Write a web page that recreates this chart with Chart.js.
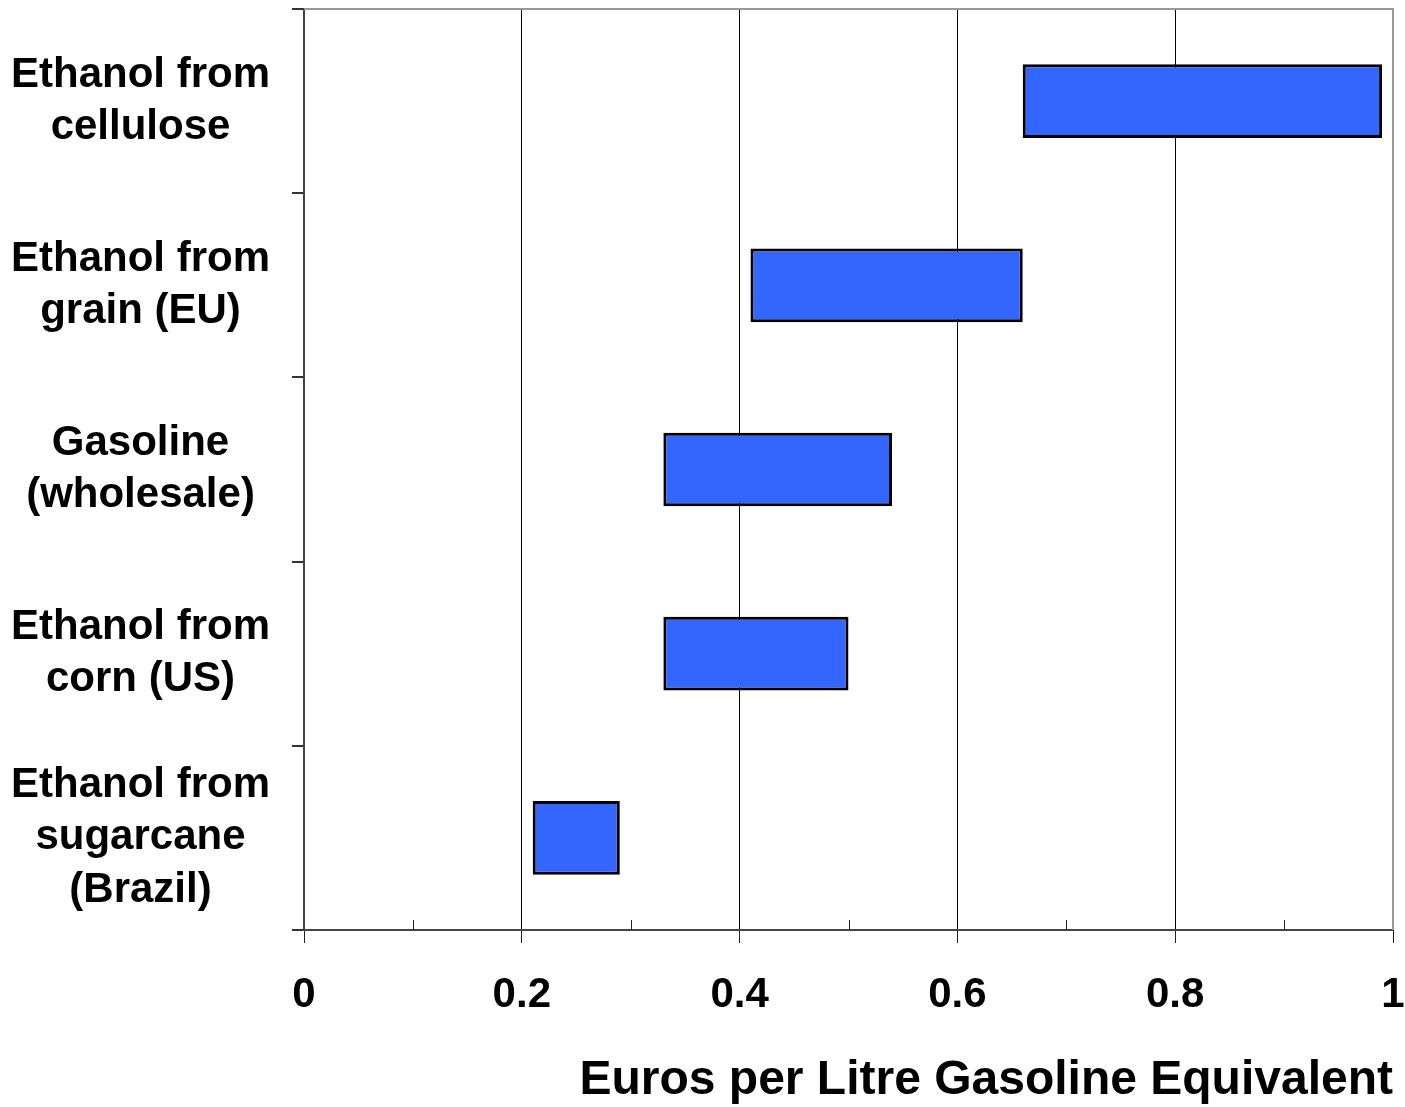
<!DOCTYPE html>
<html>
<head>
<meta charset="utf-8">
<script src="https://cdn.jsdelivr.net/npm/chart.js@4.4.1/dist/chart.umd.min.js"></script>
<style>
  html, body { margin: 0; padding: 0; background: #fff; }
  #wrap { width: 1405px; height: 1107px; }
</style>
</head>
<body>
<div id="wrap"><canvas id="costChart" width="1405" height="1107"></canvas></div>
<script>
// Catégories (de haut en bas) et bornes des fourchettes de coût
const categories = [
    ["Ethanol from", "cellulose"],
    ["Ethanol from", "grain (EU)"],
    ["Gasoline", "(wholesale)"],
    ["Ethanol from", "corn (US)"],
    ["Ethanol from", "sugarcane", "(Brazil)"]
];
const lowValues = [0.66, 0.41, 0.33, 0.33, 0.21];
const highValues = [0.99, 0.66, 0.54, 0.50, 0.29];
const xMin = 0;
const xMax = 1;
const majorStep = 0.2;
const minorTicks = [0.1, 0.3, 0.5, 0.7, 0.9];
const axisTitle = "Euros per Litre Gasoline Equivalent";

const FONT = "'Liberation Sans', Arial, sans-serif";

// Cadre gris en haut et à droite + petites graduations vers le haut
const framePlugin = {
    id: 'frame',
    afterDraw(chart) {
        const ctx = chart.ctx;
        const area = chart.chartArea;
        const xs = chart.scales.x;
        ctx.save();
        ctx.strokeStyle = '#999';
        ctx.lineWidth = 2;
        ctx.beginPath();
        ctx.moveTo(area.left, area.top);
        ctx.lineTo(area.right, area.top);
        ctx.lineTo(area.right, area.bottom);
        ctx.stroke();

        ctx.strokeStyle = '#222';
        ctx.lineWidth = 1;
        minorTicks.forEach(v => {
            const x = Math.round(xs.getPixelForValue(v)) + 0.5;
            ctx.beginPath();
            ctx.moveTo(x, area.bottom);
            ctx.lineTo(x, area.bottom - 10);
            ctx.stroke();
        });
        ctx.restore();
    }
};

const ranges = lowValues.map((lo, i) => [lo, highValues[i]]);

new Chart(document.getElementById('costChart'), {
    type: 'bar',
    data: {
        labels: categories,
        datasets: [{
            data: ranges,
            backgroundColor: '#3366FF',
            borderColor: '#000',
            borderWidth: 3,
            borderSkipped: false,
            barPercentage: 0.4,
            categoryPercentage: 1
        }]
    },
    options: {
        indexAxis: 'y',
        responsive: false,
        animation: false,
        layout: { padding: { top: 9, right: 12, left: 0, bottom: 0 } },
        plugins: {
            legend: { display: false },
            tooltip: { enabled: false },
            title: {
                display: true,
                text: axisTitle,
                position: 'bottom',
                align: 'end',
                color: '#000',
                font: { family: FONT, size: 48, weight: 'bold', lineHeight: 1.0 },
                padding: { top: 0, bottom: 2 }
            }
        },
        scales: {
            x: {
                type: 'linear',
                min: xMin,
                max: xMax,
                afterFit(scale) {
                    scale.height = 127;
                    scale.paddingLeft = 0;
                    scale.paddingRight = 0;
                },
                ticks: {
                    stepSize: majorStep,
                    color: '#000',
                    padding: 27,
                    maxRotation: 0,
                    font: { family: FONT, size: 42, weight: 'bold' },
                    callback: v => String(Math.round(v * 10) / 10)
                },
                grid: {
                    color: ctx => (ctx.tick && (ctx.tick.value === xMin || ctx.tick.value === xMax)) ? 'rgba(0,0,0,0)' : '#000',
                    tickColor: '#222',
                    lineWidth: 1,
                    tickLength: 13
                },
                border: { color: '#444', width: 2 }
            },
            y: {
                type: 'category',
                afterFit(scale) {
                    scale.width = 304;
                    scale.paddingTop = 0;
                    scale.paddingBottom = 0;
                },
                ticks: {
                    color: '#000',
                    padding: 22,
                    crossAlign: 'center',
                    font: { family: FONT, size: 42, weight: 'bold', lineHeight: 1.24 }
                },
                grid: {
                    offset: true,
                    drawOnChartArea: false,
                    tickLength: 12,
                    tickColor: '#333',
                    lineWidth: 2
                },
                border: { color: '#444', width: 2 }
            }
        }
    },
    plugins: [framePlugin]
});
</script>
</body>
</html>
